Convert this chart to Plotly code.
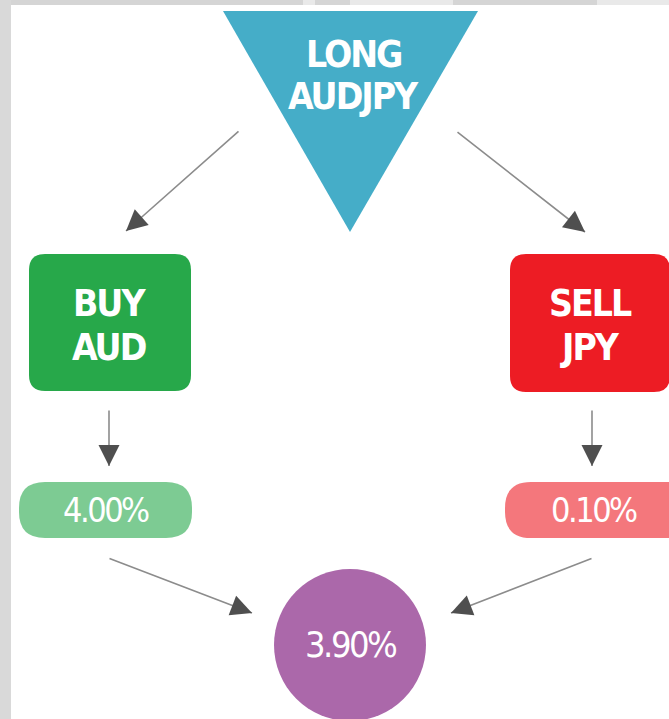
import plotly.graph_objects as go

# ---- data ----
pair_label = ["LONG", "AUDJPY"]
buy_label = ["BUY", "AUD"]
sell_label = ["SELL", "JPY"]
rate_labels = ["4.00%", "0.10%"]
net_label = "3.90%"

W, H = 669, 719
FONT = ("Noto Sans ExtraCondensed, Noto Sans Condensed, DejaVu Sans Condensed, "
        "Liberation Sans Narrow, Noto Sans, DejaVu Sans, sans-serif")

C_TRI = "#45adc8"
C_BUY = "#27a84a"
C_SELL = "#ed1c24"
C_BUY_L = "#7dcb93"
C_SELL_L = "#f4777c"
C_NET = "#ab68aa"
C_HEAD = "#4f4f4f"
C_LINE = "#8c8c8c"


def rrect(x0, y0, x1, y1, r):
    return (f"M {x0+r},{y0} L {x1-r},{y0} Q {x1},{y0} {x1},{y0+r} "
            f"L {x1},{y1-r} Q {x1},{y1} {x1-r},{y1} L {x0+r},{y1} "
            f"Q {x0},{y1} {x0},{y1-r} L {x0},{y0+r} Q {x0},{y0} {x0+r},{y0} Z")


fig = go.Figure()
fig.add_trace(go.Scatter(x=[0, W], y=[0, H], mode="markers",
                         marker=dict(opacity=0), hoverinfo="skip", showlegend=False))

shapes = []
shapes.append(dict(type="rect", x0=0, x1=W, y0=0, y1=5, fillcolor="#d5d5d5", line_width=0, layer="below"))
for a, b in [(303, 315), (350, 453), (597, W)]:
    shapes.append(dict(type="rect", x0=a, x1=b, y0=0, y1=5, fillcolor="#e9e9e9", line_width=0, layer="below"))
shapes.append(dict(type="rect", x0=0, x1=11, y0=0, y1=H, fillcolor="#d9d9d9", line_width=0, layer="below"))

shapes.append(dict(type="path", path="M 223,11 L 478,11 L 350,232 Z", fillcolor=C_TRI, line_width=0))
shapes.append(dict(type="path", path=rrect(29, 254, 191, 391, 16), fillcolor=C_BUY, line_width=0))
shapes.append(dict(type="path", path=rrect(510, 254, 670, 392, 16), fillcolor=C_SELL, line_width=0))
shapes.append(dict(type="path", path=rrect(19, 482, 192, 538, 26), fillcolor=C_BUY_L, line_width=0))
shapes.append(dict(type="path", path=rrect(505, 482, 695, 538, 26), fillcolor=C_SELL_L, line_width=0))
shapes.append(dict(type="circle", x0=274, x1=426, y0=569, y1=721, fillcolor=C_NET, line_width=0))

ann = []


def txt(x, y, s, size, weight="bold", ls=-2):
    ann.append(dict(x=x, y=y,
                    text=f'<span style="font-stretch:ultra-condensed;letter-spacing:{ls}px">{s}</span>',
                    showarrow=False,
                    font=dict(family=FONT, size=size, color="white", weight=weight),
                    xanchor="center", yanchor="middle"))


txt(353, 54, pair_label[0], 37)
txt(353, 96, pair_label[1], 37)
txt(109, 303, buy_label[0], 37)
txt(109, 347, buy_label[1], 37)
txt(590, 303, sell_label[0], 37)
txt(590, 347, sell_label[1], 37)
txt(106, 510, rate_labels[0], 34, weight="normal", ls=-2.5)
txt(594, 510, rate_labels[1], 34, weight="normal", ls=-2.5)
txt(350, 644, net_label, 36, weight="normal", ls=-2.5)

arrows = [((126, 231), (240, 130)), ((585, 232), (456, 131)),
          ((109, 466), (109, 409)), ((592, 466), (592, 409)),
          ((252, 613), (108, 558)), ((451, 613), (593, 558))]
for (x, y), (ax, ay) in arrows:
    ann.append(dict(x=x, y=y, ax=ax, ay=ay, xref="x", yref="y", axref="x", ayref="y",
                    showarrow=True, arrowhead=0, arrowwidth=1.6,
                    arrowcolor=C_LINE, text=""))
    dx, dy = ax - x, ay - y
    L = (dx * dx + dy * dy) ** 0.5
    bx, by = x + dx / L * 14, y + dy / L * 14
    ann.append(dict(x=x, y=y, ax=bx, ay=by, xref="x", yref="y", axref="x", ayref="y",
                    showarrow=True, arrowhead=2, arrowsize=2.8, arrowwidth=1.5,
                    arrowcolor=C_HEAD, text=""))

fig.update_layout(width=W, height=H, margin=dict(l=0, r=0, t=0, b=0),
                  paper_bgcolor="white", plot_bgcolor="white",
                  shapes=shapes, annotations=ann, showlegend=False,
                  xaxis=dict(range=[0, W], visible=False, fixedrange=True),
                  yaxis=dict(range=[H, 0], visible=False, fixedrange=True))
fig.write_html("out.html", config={"displayModeBar": False},
               post_script="document.body.style.margin='0';document.body.style.overflow='hidden';")
